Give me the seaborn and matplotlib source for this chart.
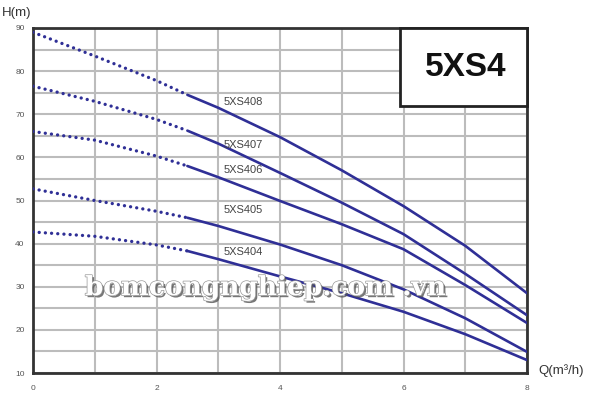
import matplotlib
matplotlib.use("Agg")
import matplotlib.pyplot as plt
import matplotlib.patheffects as pe
from matplotlib.patches import Rectangle
import seaborn as sns
import pandas as pd

# ---- data ----
flow = [0, 1, 2, 2.5, 3, 4, 5, 6, 7, 8]
h_5xs408 = [89.0, 83.5, 77.8, 74.5, 71.5, 64.7, 57.0, 48.7, 39.5, 28.5]
h_5xs407 = [76.5, 73.0, 68.8, 66.2, 63.2, 56.4, 49.5, 42.2, 33.0, 23.4]
h_5xs406 = [66.0, 64.0, 60.3, 58.0, 55.4, 49.9, 44.5, 38.7, 30.4, 21.6]
h_5xs405 = [52.7, 50.0, 47.5, 46.0, 44.1, 39.8, 35.0, 29.4, 22.7, 14.9]
h_5xs404 = [42.7, 41.7, 39.7, 38.3, 36.4, 32.4, 28.5, 24.2, 19.0, 13.0]
models = ["5XS408", "5XS407", "5XS406", "5XS405", "5XS404"]
heads = [h_5xs408, h_5xs407, h_5xs406, h_5xs405, h_5xs404]
dotted_limit = 2.5
x_ticks = [0, 2, 4, 6, 8]
y_ticks = [10, 20, 30, 40, 50, 60, 70, 80, 90]
title = "5XS4"

sns.set_style("white")
plt.rcParams['font.family'] = ['Liberation Sans', 'DejaVu Sans']

fig = plt.figure(figsize=(6.0, 3.98), dpi=100)
ax = fig.add_axes([33/600, 25/398, (527-33)/600, (373-28)/398])

blue = "#2f2f96"
for name, h in zip(models, heads):
    df = pd.DataFrame({"Q": flow, "H": h})
    dot = df[df.Q <= dotted_limit]
    sol = df[df.Q >= dotted_limit]
    sns.lineplot(data=dot, x="Q", y="H", ax=ax, color=blue, lw=2.4, zorder=3)
    ln = ax.lines[-1]
    ln.set_linestyle((0, (0.01, 1.85)))
    ln.set_dash_capstyle("round")
    sns.lineplot(data=sol, x="Q", y="H", ax=ax, color=blue, lw=1.9, zorder=3)

# curve labels
label_y = {"5XS408": 72.8, "5XS407": 62.9, "5XS406": 57.1, "5XS405": 47.8, "5XS404": 38.1}
for name in models:
    ax.text(3.08, label_y[name], name, fontsize=8, color="#444444", va="center",
            ha="left", zorder=4)

ax.set_xlim(0, 8)
ax.set_ylim(10, 90)
ax.set_xticks([i for i in range(0, 9)], minor=False)
ax.set_yticks([10 + 5 * i for i in range(17)])
ax.set_xticklabels([str(v) if v in x_ticks else "" for v in range(0, 9)])
ax.set_yticklabels([str(v) if v in y_ticks else "" for v in [10 + 5 * i for i in range(17)]])
ax.grid(True, color="#bcbcbc", lw=1.5, zorder=0)
ax.set_axisbelow(True)
ax.tick_params(axis="both", length=0, labelsize=6, labelcolor="#555555")
ax.tick_params(axis="x", pad=9)
ax.tick_params(axis="y", pad=6)
for s in ax.spines.values():
    s.set_visible(True)
    s.set_color("#333333")
    s.set_linewidth(2.0)
ax.set_xlabel("")
ax.set_ylabel("")

# title box
ax.add_patch(Rectangle((5.94, 71.9), 8 - 5.94, 90 - 71.9, facecolor="white",
                       edgecolor="#222222", lw=2.0, zorder=5, clip_on=False))
ax.text(7.01, 80.8, title, fontsize=24, fontweight="bold", ha="center",
        va="center", color="#111111", zorder=6)

fig.text(2/600, 1 - 13/398, "H(m)", fontsize=9.5, color="#333333", ha="left", va="center")
fig.text(538/600, 1 - 371/398, "Q(m³/h)", fontsize=9.5, color="#333333", ha="left", va="center")

# watermark
ax.text(0.84, 29.8, "bomcongnghiep.com .vn", fontsize=19, fontweight="bold",
        family="DejaVu Serif", color="white", ha="left", va="center", zorder=7,
        path_effects=[pe.withSimplePatchShadow(offset=(1.5, -1.5), shadow_rgbFace="#555555", alpha=0.8),
                      pe.Stroke(linewidth=1.0, foreground="#999999"), pe.Normal()])

fig.savefig("out.png", dpi=100, facecolor="white")
